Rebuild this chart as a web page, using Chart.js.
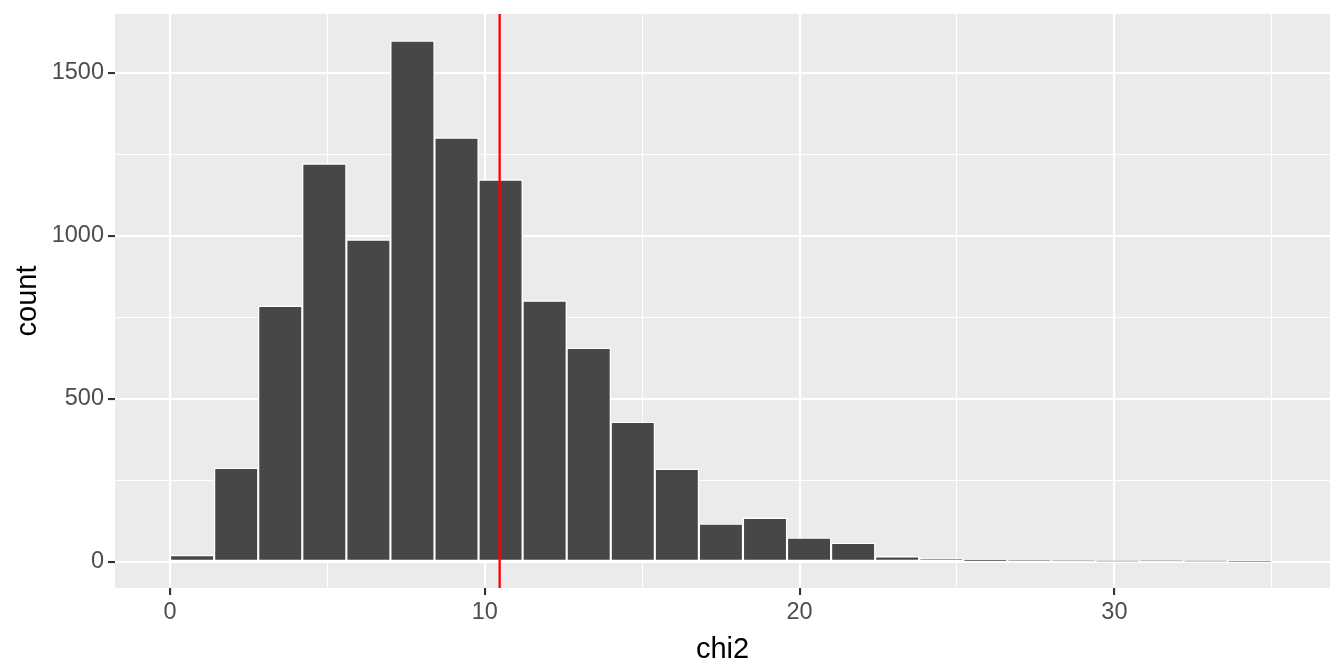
<!DOCTYPE html>
<html>
<head>
<meta charset="utf-8">
<script src="https://cdn.jsdelivr.net/npm/chart.js@4.4.1/dist/chart.umd.min.js"></script>
<style>
  body { margin: 0; background: #fff; }
  #wrap { width: 1344px; height: 672px; }
</style>
</head>
<body>
<div id="wrap"><canvas id="myChart" width="1344" height="672"></canvas></div>
<script>
// histogram bins (centres, width 1.4) and counts
const binCenters = [0.7, 2.1, 3.5, 4.9, 6.3, 7.7, 9.1, 10.5, 11.9, 13.3, 14.7, 16.1, 17.5,
                    18.9, 20.3, 21.7, 23.1, 24.5, 25.9, 27.3, 28.7, 30.1, 31.5, 32.9, 34.3];
const counts = [21, 288, 785, 1221, 988, 1598, 1301, 1172, 801, 656, 429, 285, 117,
                135, 74, 58, 17, 10, 5, 4, 3, 2, 3, 2, 1];
const xTicks = [0, 5, 10, 15, 20, 25, 30, 35];
const yTicks = [0, 250, 500, 750, 1000, 1250, 1500];
const observed = 10.47;

const font = "'Liberation Sans', Arial, sans-serif";

const panelBg = {
  id: 'panelBg',
  beforeDraw(chart) {
    const a = chart.chartArea;
    const c = chart.ctx;
    c.save();
    c.fillStyle = '#EBEBEB';
    c.fillRect(a.left, a.top, a.right - a.left, a.bottom - a.top);
    c.restore();
  }
};

const ctx = document.getElementById('myChart');

new Chart(ctx, {
  type: 'bar',
  data: {
    datasets: [{
      type: 'line',
      data: [{x: observed, y: -80}, {x: observed, y: 1680}],
      borderColor: '#FF0000',
      borderWidth: 2.3,
      pointRadius: 0,
      order: 0
    }, {
      data: binCenters.map((x, i) => ({x: x, y: counts[i]})),
      backgroundColor: '#474747',
      borderColor: '#FFFFFF',
      borderWidth: 1.4,
      borderSkipped: false,
      barPercentage: 1,
      categoryPercentage: 1,
      order: 1
    }]
  },
  options: {
    responsive: false,
    animation: false,
    layout: { padding: { top: 14, right: 14, left: 0, bottom: 0 } },
    plugins: {
      legend: { display: false },
      tooltip: { enabled: false }
    },
    scales: {
      x: {
        type: 'linear',
        offset: false,
        min: -1.75,
        max: 36.85,
        afterBuildTicks: axis => { axis.ticks = xTicks.map(v => ({value: v})); },
        afterFit: axis => {
          axis.height = 84;
          axis.paddingLeft = 0;
          axis.paddingRight = 0;
        },
        border: { display: false },
        grid: {
          offset: false,
          color: '#FFFFFF',
          lineWidth: c => (c.tick && c.tick.value % 10 === 0) ? 2.1 : 1.05,
          tickColor: c => (c.tick && c.tick.value % 10 === 0) ? '#333333' : 'rgba(0,0,0,0)',
          tickWidth: 2.1,
          tickLength: 7
        },
        ticks: {
          autoSkip: false,
          maxRotation: 0,
          padding: 3,
          color: '#4D4D4D',
          font: { family: font, size: 23.5 },
          callback: v => v % 10 === 0 ? v : ''
        },
        title: {
          display: true,
          text: 'chi2',
          color: '#000000',
          font: { family: font, size: 29 },
          padding: { top: 0, bottom: 5 }
        }
      },
      y: {
        min: -80,
        max: 1680,
        afterBuildTicks: axis => { axis.ticks = yTicks.map(v => ({value: v})); },
        afterFit: axis => {
          axis.width = 115;
          axis.paddingTop = 0;
          axis.paddingBottom = 0;
        },
        border: { display: false },
        grid: {
          color: '#FFFFFF',
          lineWidth: c => (c.tick && c.tick.value % 500 === 0) ? 2.1 : 1.05,
          tickColor: c => (c.tick && c.tick.value % 500 === 0) ? '#333333' : 'rgba(0,0,0,0)',
          tickWidth: 2.1,
          tickLength: 7
        },
        ticks: {
          padding: 4,
          color: '#4D4D4D',
          font: { family: font, size: 23.5 },
          callback: v => v % 500 === 0 ? v : ''
        },
        title: {
          display: true,
          text: 'count',
          color: '#000000',
          font: { family: font, size: 29 },
          padding: { top: 10.5, bottom: 0 }
        }
      }
    }
  },
  plugins: [panelBg]
});
</script>
</body>
</html>
